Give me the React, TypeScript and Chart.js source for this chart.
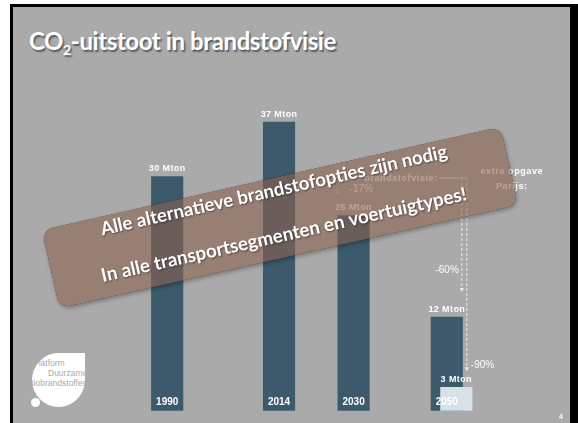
import React, { useEffect, useRef } from "react";
import { Chart, registerables } from "chart.js";

Chart.register(...registerables);

// ---- data ----
const years = [1990, 2014, 2030, 2050];
const emissionsMton = [30, 37, 25, 12];
const parisYears = [2050];
const parisMton = [3];
const unit = "Mton";
const reductionLabels = ["-17%", "-60%", "-90%"];
const visionLabel = "brandstofvisie:";
const parisNote = ["extra opgave", "Parijs:"];
const bannerLines = [
  "Alle alternatieve brandstofopties zijn nodig",
  "In alle transportsegmenten en voertuigtypes!",
];
const logoLines = ["Platform", "Duurzame", "Biobrandstoffen"];
const pageNumber = "4";

// ---- styles ----
const BG = "#aaaaaa";
const BAR = "#3c5a6c";
const LIGHT = "#d6e1e8";
const BANNER = "rgba(140,96,78,0.58)";

function addRoundRect(ctx: CanvasRenderingContext2D, x: number, y: number, w: number, h: number, r: number) {
  ctx.moveTo(x + r, y);
  ctx.arcTo(x + w, y, x + w, y + h, r);
  ctx.arcTo(x + w, y + h, x, y + h, r);
  ctx.arcTo(x, y + h, x, y, r);
  ctx.arcTo(x, y, x + w, y, r);
  ctx.closePath();
}

const slidePlugin = {
  id: "slide",
  afterDatasetsUpdate(chart: any) {
    const meta = chart.getDatasetMeta(0);
    meta.data.forEach((el: any) => {
      el.x += 9.5;
    });
  },
  afterDatasetsDraw(chart: any) {
    const ctx: CanvasRenderingContext2D = chart.ctx;
    const ys = chart.scales.y;
    const main = chart.getDatasetMeta(1).data;
    const paris = chart.getDatasetMeta(0).data;
    ctx.save();
    ctx.fillStyle = "#ffffff";
    ctx.textAlign = "center";
    ctx.textBaseline = "middle";
    ctx.font = 'bold 9px "Liberation Sans"';
    (ctx as any).letterSpacing = "0.4px";
    main.forEach((el: any, i: number) => ctx.fillText(`${emissionsMton[i]} ${unit}`, el.x, el.y - 8));
    paris.forEach((el: any, i: number) => ctx.fillText(`${parisMton[i]} ${unit}`, el.x, el.y - 8));
    (ctx as any).letterSpacing = "0px";
    ctx.font = 'bold 10px "Liberation Sans"';
    main.forEach((el: any, i: number) => ctx.fillText(String(years[i]), el.x, el.base - 8));

    // reduction annotations
    const ref = ys.getPixelForValue(emissionsMton[0]) + 1.3;
    const b2030 = main[2];
    const b2050 = main[3];
    const lx1 = b2050.x + 15;
    const lx2 = b2050.x + 20;
    const tip1 = ys.getPixelForValue(emissionsMton[3]) - 25;
    const tip2 = ys.getPixelForValue(parisMton[0]) - 16;

    ctx.strokeStyle = "#eeeeee";
    ctx.lineWidth = 1;
    ctx.beginPath();
    ctx.moveTo(lx1 - 22, ref);
    ctx.lineTo(lx2, ref);
    ctx.stroke();
    ctx.setLineDash([3, 2]);
    ctx.beginPath();
    ctx.moveTo(lx1, ref);
    ctx.lineTo(lx1, tip1 - 3);
    ctx.moveTo(lx2, ref);
    ctx.lineTo(lx2, tip2 - 3);
    ctx.stroke();
    ctx.setLineDash([]);
    ctx.fillStyle = "#eeeeee";
    [
      [lx1, tip1],
      [lx2, tip2],
    ].forEach(([x, t]) => {
      ctx.beginPath();
      ctx.moveTo(x - 2, t - 4);
      ctx.lineTo(x + 2, t - 4);
      ctx.lineTo(x, t);
      ctx.closePath();
      ctx.fill();
    });

    ctx.fillStyle = "#ffffff";
    ctx.font = 'bold 9px "Liberation Sans"';
    (ctx as any).letterSpacing = "0.6px";
    ctx.textAlign = "right";
    ctx.fillText(visionLabel, lx1 - 24, ref + 1);
    ctx.textAlign = "center";
    ctx.fillText(parisNote[0], b2050.x + 65, ref - 6);
    ctx.fillText(parisNote[1], b2050.x + 65, ref + 9);
    (ctx as any).letterSpacing = "0px";
    ctx.font = '10px "Liberation Sans"';
    ctx.textAlign = "center";
    ctx.fillText("\u2193", b2030.x - 16, ref + 12);
    ctx.textAlign = "left";
    ctx.fillText(reductionLabels[0], b2030.x - 4, ref + 11);
    ctx.textAlign = "right";
    ctx.fillText(reductionLabels[1], lx1 - 3, tip1 - 22);
    ctx.textAlign = "left";
    ctx.fillText(reductionLabels[2], lx2 + 4, tip2 - 6);
    ctx.restore();
  },
  afterDraw(chart: any) {
    const ctx: CanvasRenderingContext2D = chart.ctx;
    const w = 470;
    const h = 80;
    const r = 11;
    ctx.save();
    ctx.translate(280, 217.5);
    ctx.rotate((-12.7 * Math.PI) / 180);
    // shadow outside only
    ctx.save();
    ctx.beginPath();
    ctx.rect(-500, -300, 1000, 600);
    addRoundRect(ctx, -w / 2, -h / 2, w, h, r);
    ctx.clip("evenodd");
    ctx.shadowColor = "rgba(0,0,0,0.3)";
    ctx.shadowBlur = 4;
    ctx.shadowOffsetX = 1;
    ctx.shadowOffsetY = 2;
    ctx.beginPath();
    addRoundRect(ctx, -w / 2, -h / 2, w, h, r);
    ctx.fillStyle = "#000";
    ctx.fill();
    ctx.restore();

    ctx.beginPath();
    addRoundRect(ctx, -w / 2, -h / 2, w, h, r);
    ctx.fillStyle = BANNER;
    ctx.fill();

    const targets = [355, 374];
    const baselines = [-21.6, 24];
    ctx.fillStyle = "#ffffff";
    ctx.textAlign = "center";
    ctx.textBaseline = "alphabetic";
    ctx.shadowColor = "rgba(0,0,0,0.45)";
    ctx.shadowBlur = 2;
    ctx.shadowOffsetX = 1;
    ctx.shadowOffsetY = 1;
    bannerLines.forEach((line, i) => {
      ctx.font = 'bold 20px "Lato"';
      const m = ctx.measureText(line).width;
      const size = (20 * targets[i]) / m;
      ctx.font = `bold ${size.toFixed(2)}px "Lato"`;
      ctx.fillText(line, 0, baselines[i]);
    });
    ctx.restore();
  },
};

export default function App() {
  const canvasRef = useRef<HTMLCanvasElement | null>(null);

  useEffect(() => {
    const canvas = canvasRef.current;
    if (!canvas) return;
    const chart = new Chart(canvas, {
      type: "bar",
      data: {
        datasets: [
          {
            label: "Parijs",
            data: parisYears.map((x, i) => ({ x, y: parisMton[i] })),
            backgroundColor: LIGHT,
          },
          {
            label: "Brandstofvisie",
            data: years.map((x, i) => ({ x, y: emissionsMton[i] })),
            backgroundColor: BAR,
          },
        ],
      } as any,
      options: {
        responsive: false,
        animation: false,
        events: [],
        layout: { padding: { left: 74, right: 38, top: 98.7, bottom: 12.3 } },
        datasets: { bar: { grouped: false, barThickness: 31.5 } } as any,
        scales: {
          x: { type: "linear", min: 1970, max: 2070, display: false, offset: false },
          y: { min: 0, max: 40, display: false },
        },
        plugins: {
          legend: { display: false },
          tooltip: { enabled: false },
          title: { display: false },
        },
      },
      plugins: [slidePlugin],
    });
    return () => chart.destroy();
  }, []);

  return (
    <div
      style={{
        position: "fixed",
        left: 0,
        top: 0,
        width: 578,
        height: 423,
        background: "#ffffff",
        overflow: "hidden",
      }}
    >
      <div style={{ position: "absolute", left: 10, top: 4, width: 568, height: 419, background: "#000" }} />
      <div style={{ position: "absolute", left: 13, top: 7, width: 557, height: 416, background: BG }} />
      <div
        style={{
          position: "absolute",
          left: 29,
          top: 29,
          font: 'bold 24px "Lato"',
          letterSpacing: "-0.4px",
          lineHeight: "24px",
          color: "#ffffff",
          whiteSpace: "nowrap",
          textShadow: "1.5px 1.5px 1.5px rgba(50,60,70,0.7)",
        }}
      >
        CO
        <span style={{ fontSize: "14px", position: "relative", top: 5 }}>2</span>
        -uitstoot in brandstofvisie
      </div>
      {/* logo */}
      <div
        style={{
          position: "absolute",
          left: 32,
          top: 353,
          width: 53,
          height: 54,
          background: "#ffffff",
          borderRadius: "50% 0 50% 50%",
        }}
      />
      <div style={{ position: "absolute", left: 31, top: 398, width: 9, height: 9, borderRadius: "50%", background: "#fff" }} />
      {logoLines.map((t, i) => (
        <div
          key={t}
          style={{
            position: "absolute",
            left: [33, 48, 28][i],
            top: 358 + i * 10,
            font: '8.5px "Liberation Sans"',
            lineHeight: "10px",
            color: BG,
            whiteSpace: "nowrap",
          }}
        >
          {t}
        </div>
      ))}
      <canvas
        ref={canvasRef}
        width={578}
        height={423}
        style={{ position: "absolute", left: 0, top: 0, width: 578, height: 423 }}
      />
      <div
        style={{
          position: "absolute",
          left: 559,
          top: 413,
          font: 'bold 7px "Liberation Sans"',
          lineHeight: "8px",
          color: "#ffffff",
        }}
      >
        {pageNumber}
      </div>
    </div>
  );
}
